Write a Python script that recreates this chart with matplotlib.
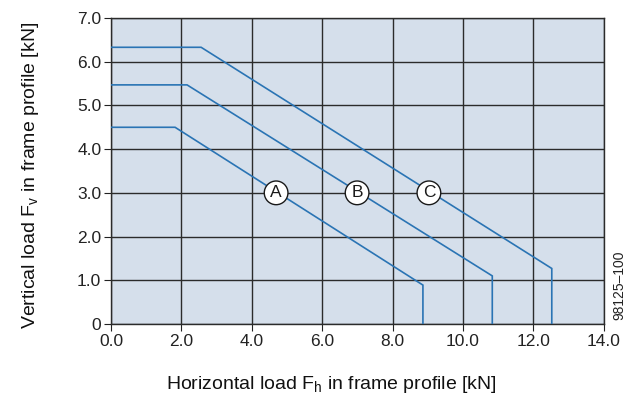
import matplotlib
matplotlib.use("Agg")
import matplotlib.pyplot as plt

plt.rcParams['font.family'] = ['Liberation Sans', 'DejaVu Sans']
plt.rcParams['mathtext.fontset'] = 'custom'
plt.rcParams['mathtext.rm'] = 'Liberation Sans'
plt.rcParams['mathtext.it'] = 'Liberation Sans'

# Curves: (horizontal load, vertical load)
a_x = [0.0, 1.82, 8.86, 8.86]
a_y = [4.50, 4.50, 0.89, 0.0]
b_x = [0.0, 2.16, 10.83, 10.83]
b_y = [5.47, 5.47, 1.10, 0.0]
c_x = [0.0, 2.56, 12.52, 12.52]
c_y = [6.33, 6.33, 1.27, 0.0]

labels = ["A", "B", "C"]
label_x = [4.69, 6.99, 9.03]
label_y = [3.0, 3.0, 3.0]

x_ticks = [0, 2, 4, 6, 8, 10, 12, 14]
x_ticklabels = ["0.0", "2.0", "4.0", "6.0", "8.0", "10.0", "12.0", "14.0"]
y_ticks = [0, 1, 2, 3, 4, 5, 6, 7]
y_ticklabels = ["0", "1.0", "2.0", "3.0", "4.0", "5.0", "6.0", "7.0"]

fig = plt.figure(figsize=(6.35, 3.94), dpi=100)
ax = fig.add_axes([0.1748, 0.1777, 0.951 - 0.1748, 0.9543 - 0.1777])
ax.set_facecolor('#d5dfeb')
ax.set_xlim(0, 14)
ax.set_ylim(0, 7)

for xv in x_ticks:
    ax.axvline(xv, color='#2b2b2b', lw=1.0, zorder=1)
for yv in y_ticks:
    ax.axhline(yv, color='#2b2b2b', lw=1.0, zorder=1)

line_color = '#2a74b4'
for xs, ys in [(a_x, a_y), (b_x, b_y), (c_x, c_y)]:
    ax.plot(xs, ys, color=line_color, lw=1.2, zorder=3, solid_joinstyle='miter')

for lab, lx, ly in zip(labels, label_x, label_y):
    ax.text(lx, ly, lab, ha='center', va='center', fontsize=12.5, color='#1a1a1a', zorder=5,
            bbox=dict(boxstyle='circle,pad=0.25', fc='white', ec='#1a1a1a', lw=1.0))

ax.set_xticks(x_ticks)
ax.set_xticklabels(x_ticklabels)
ax.set_yticks(y_ticks)
ax.set_yticklabels(y_ticklabels)
ax.tick_params(axis='both', labelsize=12.5, colors='#222222', length=5, width=0.8, direction='out', pad=2)
for s in ax.spines.values():
    s.set_color('#2b2b2b')
    s.set_linewidth(1.0)

ax.set_xlabel(r'Horizontal load F$_\mathrm{h}$ in frame profile [kN]', fontsize=14, color='#111111', labelpad=18)
ax.xaxis.label.set_x(0.448)
ax.set_ylabel(r'Vertical load F$_\mathrm{v}$ in frame profile [kN]', fontsize=14, color='#111111', labelpad=26)
ax.yaxis.label.set_y(0.487)

fig.text(0.976, 0.188, '98125\u2013100', rotation=90, fontsize=10, ha='center', va='bottom', color='#222222')

fig.savefig('out.png', dpi=100)
